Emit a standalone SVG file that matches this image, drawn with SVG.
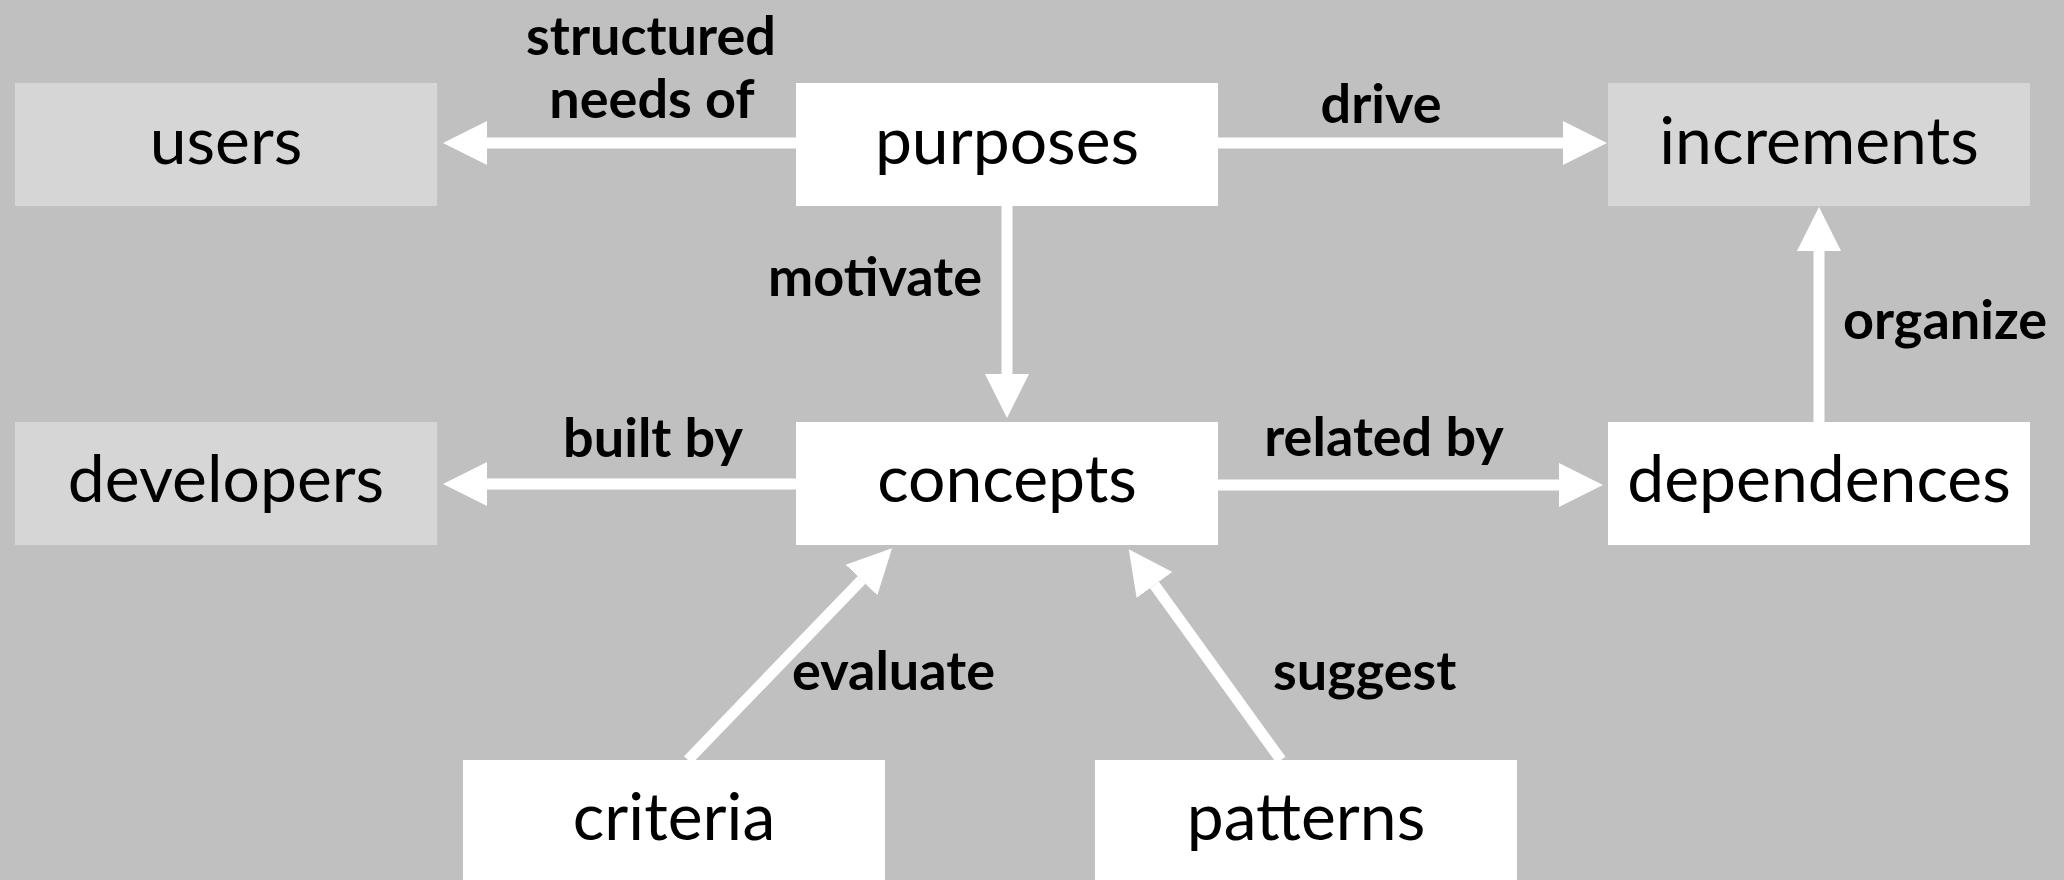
<svg xmlns="http://www.w3.org/2000/svg" width="2064" height="880" viewBox="0 0 2064 880">
<defs>
<style>
.bg{fill:#c0c0c0}
.box{fill:#ffffff}
.gbox{fill:#d6d6d6}
.node{font-family:Lato,"Open Sans","Liberation Sans",sans-serif;font-size:66px;fill:#000;text-anchor:middle}
.lbl{font-family:Lato,"Open Sans","Liberation Sans",sans-serif;font-size:54px;font-weight:700;fill:#000}
.edge{stroke:#ffffff;stroke-width:11;fill:none}
</style>
<marker id="ah" markerUnits="userSpaceOnUse" markerWidth="46" markerHeight="46" viewBox="0 -23 46 46" refX="0" refY="0" orient="auto">
<path d="M0,-22 L44,0 L0,22 Z" fill="#ffffff"/>
</marker>
</defs>
<rect class="bg" x="0" y="0" width="2064" height="880"/>
<g id="connectors">
<line class="edge" x1="796" y1="143" x2="487" y2="143" marker-end="url(#ah)"/>
<line class="edge" x1="1218" y1="143" x2="1563" y2="143" marker-end="url(#ah)"/>
<line class="edge" x1="1007" y1="206" x2="1007" y2="374" marker-end="url(#ah)"/>
<line class="edge" x1="796" y1="484" x2="487" y2="484" marker-end="url(#ah)"/>
<line class="edge" x1="1218" y1="485" x2="1559" y2="485" marker-end="url(#ah)"/>
<line class="edge" x1="1819" y1="422" x2="1819" y2="251" marker-end="url(#ah)"/>
<line class="edge" x1="688" y1="760" x2="861.5" y2="580" marker-end="url(#ah)"/>
<line class="edge" x1="1281" y1="760" x2="1154.5" y2="585" marker-end="url(#ah)"/>
<text class="lbl" x="651" y="55" text-anchor="middle">structured</text>
<text class="lbl" x="652" y="118" text-anchor="middle">needs of</text>
<text class="lbl" x="1381" y="123" text-anchor="middle">drive</text>
<text class="lbl" x="982" y="296" text-anchor="end">motivate</text>
<text class="lbl" x="1843" y="339" text-anchor="start">organize</text>
<text class="lbl" x="653" y="457" text-anchor="middle">built by</text>
<text class="lbl" x="1384" y="456" text-anchor="middle">related by</text>
<text class="lbl" x="792" y="690" text-anchor="start">evaluate</text>
<text class="lbl" x="1273" y="690" text-anchor="start">suggest</text>
</g>
<g id="users"><rect class="gbox" x="15" y="83" width="422" height="123"/><text class="node" x="226" y="164">users</text></g>
<g id="purposes"><rect class="box" x="796" y="83" width="422" height="123"/><text class="node" x="1007" y="164">purposes</text></g>
<g id="increments"><rect class="gbox" x="1608" y="83" width="422" height="123"/><text class="node" x="1819" y="164">increments</text></g>
<g id="developers"><rect class="gbox" x="15" y="422" width="422" height="123"/><text class="node" x="226" y="502">developers</text></g>
<g id="concepts"><rect class="box" x="796" y="422" width="422" height="123"/><text class="node" x="1007" y="502">concepts</text></g>
<g id="dependences"><rect class="box" x="1608" y="422" width="422" height="123"/><text class="node" x="1819" y="502">dependences</text></g>
<g id="criteria"><rect class="box" x="463" y="760" width="422" height="123"/><text class="node" x="674" y="840">criteria</text></g>
<g id="patterns"><rect class="box" x="1095" y="760" width="422" height="123"/><text class="node" x="1306" y="840">patterns</text></g>
</svg>
